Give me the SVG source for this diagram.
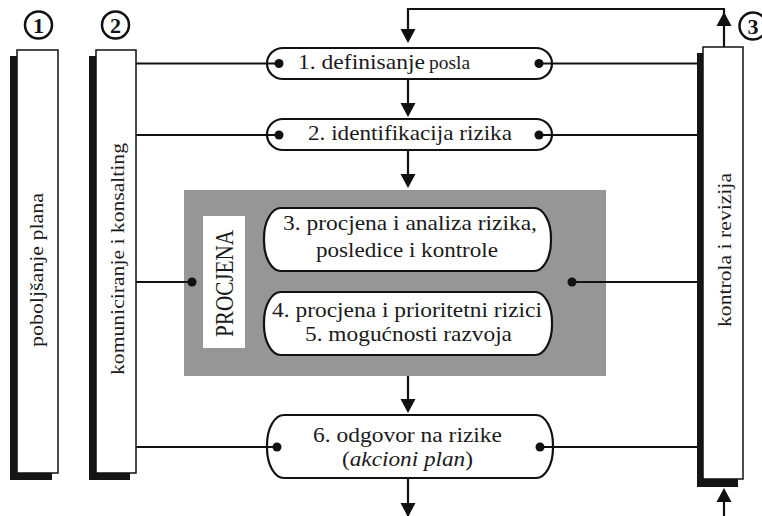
<svg xmlns="http://www.w3.org/2000/svg" width="762" height="516" viewBox="0 0 762 516">
<defs>
<style>
.bar{fill:#fff;stroke:#111;stroke-width:1.5}
.sh{fill:#151515}
.box{fill:#fff;stroke:#111;stroke-width:2.2}
.ln{fill:none;stroke:#111;stroke-width:2.2}
.ah{fill:#111}
.dot{fill:#111}
.t{fill:#1a1a1a}
.num{font-weight:bold;font-size:22px;fill:#111;text-anchor:middle}
.circ{fill:#fff;stroke:#111;stroke-width:2.5}
</style>
</defs>
<rect width="762" height="516" fill="#fff"/>
<g font-family="Liberation Serif, Times New Roman, Times, serif">
<g id="marker1">
<circle class="circ" cx="38.5" cy="25" r="13.5"/>
<text class="num" x="38.5" y="33">1</text>
</g>
<g id="marker2">
<circle class="circ" cx="115.5" cy="25" r="13.5"/>
<text class="num" x="115.5" y="33">2</text>
</g>
<g id="marker3">
<circle class="circ" cx="753" cy="26" r="13.5"/>
<text class="num" x="753" y="34">3</text>
</g>

<g id="bar-poboljsanje">
<rect class="sh" x="10" y="56" width="42" height="424"/>
<rect class="bar" x="17" y="50" width="41" height="423"/>
<text class="t" font-size="18" transform="translate(43,270) rotate(-90)" x="-77" y="0" textLength="154" lengthAdjust="spacingAndGlyphs">poboljšanje plana</text>
</g>
<g id="bar-komuniciranje">
<rect class="sh" x="89" y="56" width="41" height="424"/>
<rect class="bar" x="96" y="50" width="40" height="423"/>
<text class="t" font-size="18" transform="translate(123.5,259) rotate(-90)" x="-116" y="0" textLength="232" lengthAdjust="spacingAndGlyphs">komuniciranje i konsalting</text>
</g>
<g id="bar-kontrola">
<rect class="sh" x="697" y="53" width="41" height="434"/>
<rect class="bar" x="703" y="47" width="40" height="432"/>
<text class="t" font-size="18" transform="translate(730.5,250) rotate(-90)" x="-77" y="0" textLength="154" lengthAdjust="spacingAndGlyphs">kontrola i revizija</text>
</g>

<g id="procjena">
<rect x="184" y="190" width="422" height="186" fill="#969696"/>
<rect x="203" y="216" width="42" height="132" fill="#fff"/>
<text class="t" font-size="25" transform="translate(233,283.5) rotate(-90)" x="-53.5" y="0" textLength="107" lengthAdjust="spacingAndGlyphs">PROCJENA</text>
</g>

<g id="box1">
<rect class="box" x="267" y="48" width="285" height="31" rx="16" ry="15.5"/>
<text class="t" font-size="22" x="298" y="69" textLength="127" lengthAdjust="spacingAndGlyphs">1. definisanje</text>
<text class="t" font-size="19" x="429" y="69" textLength="41" lengthAdjust="spacingAndGlyphs">posla</text>
</g>
<g id="box2">
<rect class="box" x="267" y="119" width="285" height="31" rx="16" ry="15.5"/>
<text class="t" font-size="22" x="308" y="140" textLength="204" lengthAdjust="spacingAndGlyphs">2. identifikacija rizika</text>
</g>
<g id="box3">
<rect class="box" x="264" y="208" width="287" height="63" rx="17" ry="30"/>
<text class="t" font-size="21" x="283" y="230" textLength="254" lengthAdjust="spacingAndGlyphs">3. procjena i analiza rizika,</text>
<text class="t" font-size="21" x="316" y="257" textLength="182" lengthAdjust="spacingAndGlyphs">posledice i kontrole</text>
</g>
<g id="box4">
<rect class="box" x="264" y="292" width="288" height="63" rx="17" ry="30"/>
<text class="t" font-size="21" x="272" y="317" textLength="270" lengthAdjust="spacingAndGlyphs">4. procjena i prioritetni rizici</text>
<text class="t" font-size="21" x="305" y="341" textLength="207" lengthAdjust="spacingAndGlyphs">5. mogućnosti razvoja</text>
</g>
<g id="box6">
<rect class="box" x="267" y="415" width="286" height="63" rx="17" ry="30"/>
<text class="t" font-size="21" x="313" y="442" textLength="189" lengthAdjust="spacingAndGlyphs">6. odgovor na rizike</text>
<text class="t" font-size="21" x="342" y="466" textLength="131" lengthAdjust="spacingAndGlyphs">(<tspan font-style="italic">akcioni plan</tspan>)</text>
</g>
</g>

<g id="connectors">
<path class="ln" d="M724,47 V9 H408 V32"/>
<path class="ln" d="M408,79 V106"/>
<path class="ln" d="M408,150 V177"/>
<path class="ln" d="M408,376 V402"/>
<path class="ln" d="M408,478 V516"/>
<path class="ln" d="M724,516 V492"/>
<polygon class="ah" points="400.5,29 415.5,29 408,43"/>
<polygon class="ah" points="716.5,26 731.5,26 724,12"/>
<polygon class="ah" points="400.5,103 415.5,103 408,117"/>
<polygon class="ah" points="400.5,174 415.5,174 408,188"/>
<polygon class="ah" points="400.5,399 415.5,399 408,413"/>
<polygon class="ah" points="400.5,503 415.5,503 408,517"/>
<polygon class="ah" points="716.5,502 731.5,502 724,488"/>
<path class="ln" d="M136,63.5 H279 M539,63.5 H697"/>
<path class="ln" d="M136,135 H279 M539,135 H697"/>
<path class="ln" d="M136,282 H192 M572,282 H697"/>
<path class="ln" d="M136,447 H277 M540,447 H697"/>
<circle class="dot" cx="279" cy="63.5" r="4.5"/>
<circle class="dot" cx="539" cy="63.5" r="4.5"/>
<circle class="dot" cx="279" cy="135" r="4.5"/>
<circle class="dot" cx="539" cy="135" r="4.5"/>
<circle class="dot" cx="192" cy="282" r="4.5"/>
<circle class="dot" cx="572" cy="282" r="4.5"/>
<circle class="dot" cx="277" cy="447" r="4.5"/>
<circle class="dot" cx="540" cy="447" r="4.5"/>
</g>
</svg>
